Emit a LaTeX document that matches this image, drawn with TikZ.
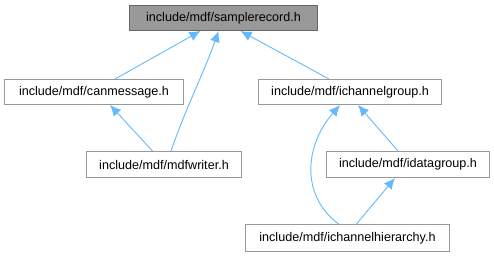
\documentclass[tikz,border=0pt]{standalone}
\usepackage{fontspec}
\setmainfont{Liberation Sans}
\usetikzlibrary{arrows.meta}
\definecolor{edgeblue}{RGB}{99,184,255}
\definecolor{boxgray}{RGB}{153,153,153}
\definecolor{rootgray}{RGB}{153,153,153}
\definecolor{rootline}{RGB}{102,102,102}
\tikzset{
  filebox/.style={draw=boxgray, line width=1pt, fill=white, inner sep=0pt,
    font=\fontsize{12.6}{14}\selectfont, anchor=north west},
  rootbox/.style={filebox, fill=rootgray, draw=rootline},
  dep/.style={draw=edgeblue, line width=0.9pt,
    -{Latex[length=11pt,width=10pt]}}
}
\begin{document}
\begin{tikzpicture}[x=1pt,y=-1pt]
\useasboundingbox (0,0) rectangle (494,256);
% header files
\node[rootbox, minimum width=188, minimum height=25] (rec) at (129,5) {include/mdf/samplerecord.h};
\node[filebox, minimum width=179, minimum height=25] (can) at (4,79) {include/mdf/canmessage.h};
\node[filebox, minimum width=155, minimum height=26] (wri) at (86,151) {include/mdf/mdfwriter.h};
\node[filebox, minimum width=183, minimum height=25] (icg) at (258,79) {include/mdf/ichannelgroup.h};
\node[filebox, minimum width=163, minimum height=26] (idg) at (326,151) {include/mdf/idatagroup.h};
\node[filebox, minimum width=204, minimum height=27] (ich) at (245,224) {include/mdf/ichannelhierarchy.h};
% include dependencies, arrow points at the included file
\draw[dep] ([xshift=21]can.north) -- ([xshift=-23]rec.south);
\draw[dep] ([xshift=7]wri.north) .. controls (185,110) and (205,70) .. ([xshift=-5]rec.south);
\draw[dep] ([xshift=-21]icg.north) -- ([xshift=17]rec.south);
\draw[dep] ([xshift=-11.5]wri.north) -- ([xshift=16]can.south);
\draw[dep] ([xshift=-9]ich.north) .. controls (300,195) and (305,145) .. ([xshift=-10]icg.south);
\draw[dep] ([xshift=-10]idg.north) -- ([xshift=8]icg.south);
\draw[dep] ([xshift=9]ich.north) -- ([xshift=-13]idg.south);
\end{tikzpicture}
\end{document}
